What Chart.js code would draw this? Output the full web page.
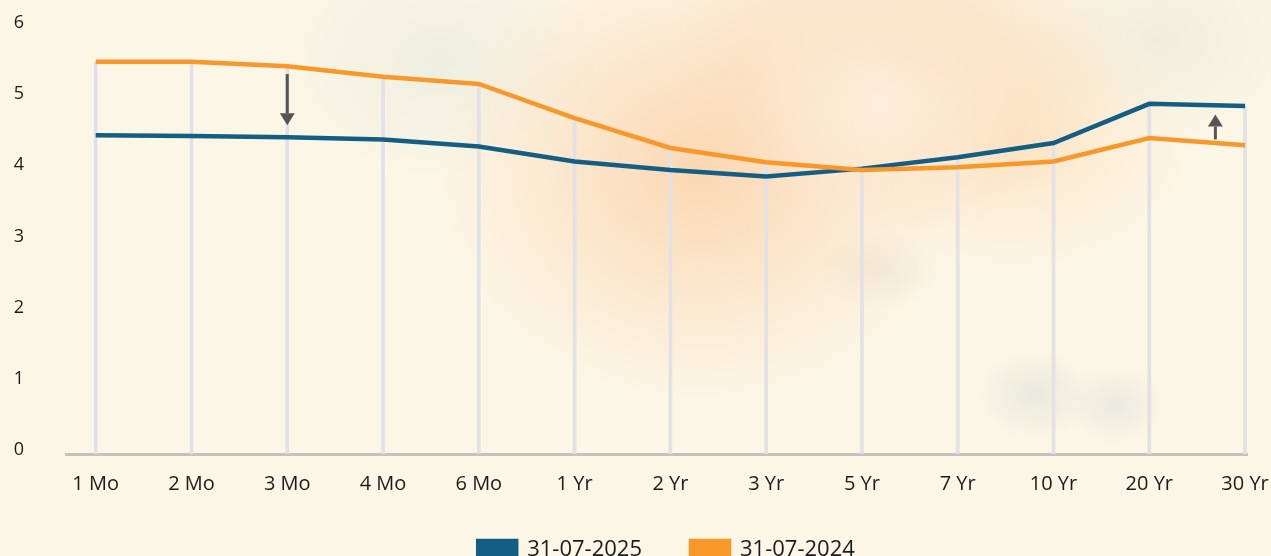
<!DOCTYPE html>
<html>
<head>
<meta charset="utf-8">
<script src="https://cdn.jsdelivr.net/npm/chart.js@4.4.1/dist/chart.umd.min.js"></script>
<style>
html, body {
	margin: 0;
	padding: 0;
	width: 1271px;
	height: 556px;
	overflow: hidden;
}
body {
	background:
		radial-gradient(ellipse 150px 130px at 880px 100px, rgba(253,240,222,0.9), rgba(253,240,222,0) 100%),
		radial-gradient(ellipse 260px 230px at 700px 170px, rgba(251,214,176,0.95), rgba(251,214,176,0) 100%),
		radial-gradient(ellipse 230px 170px at 900px 60px, rgba(251,216,180,0.9), rgba(251,216,180,0) 100%),
		radial-gradient(ellipse 180px 130px at 1010px 140px, rgba(252,226,190,0.8), rgba(252,226,190,0) 100%),
		radial-gradient(ellipse 160px 120px at 440px 60px, rgba(236,238,224,0.9), rgba(236,238,224,0) 100%),
		radial-gradient(ellipse 140px 100px at 1160px 40px, rgba(238,234,218,0.8), rgba(238,234,218,0) 100%),
		radial-gradient(ellipse 60px 45px at 1035px 395px, rgba(230,232,220,0.9), rgba(230,232,220,0) 100%),
		radial-gradient(ellipse 50px 40px at 1115px 405px, rgba(232,233,222,0.9), rgba(232,233,222,0) 100%),
		radial-gradient(ellipse 60px 40px at 880px 270px, rgba(238,234,218,0.8), rgba(238,234,218,0) 100%),
		#fcf6e6;
}
#wrap {
	position: relative;
	width: 1271px;
	height: 571px;
}
</style>
</head>
<body>
<div id="wrap"><canvas id="curve"></canvas></div>
<script>
var maturities = ['1 Mo', '2 Mo', '3 Mo', '4 Mo', '6 Mo', '1 Yr', '2 Yr', '3 Yr', '5 Yr', '7 Yr', '10 Yr', '20 Yr', '30 Yr'];
var yields2025 = [4.48, 4.47, 4.45, 4.42, 4.32, 4.11, 3.99, 3.90, 4.01, 4.17, 4.37, 4.92, 4.89];
var yields2024 = [5.51, 5.51, 5.45, 5.30, 5.20, 4.72, 4.30, 4.10, 3.99, 4.03, 4.11, 4.44, 4.34];
var seriesNames = ['31-07-2025', '31-07-2024'];

// change arrows, in data units (x = maturity index, y = yield)
var arrows = [
	{ x: 2, from: 5.34, to: 4.62 },
	{ x: 11.69, from: 4.42, to: 4.77 }
];

var FONT = '"Open Sans", sans-serif';

function points(vals) {
	return vals.map(function (v, i) { return { x: i, y: v }; });
}
var dropTops = maturities.map(function (m, i) {
	return { x: i, y: Math.max(yields2025[i], yields2024[i]) };
});

var arrowPlugin = {
	id: 'arrows',
	afterLayout: function (chart) {
		// legend sits a little right of centre in the original
		if (chart.legend) {
			chart.legend.left += 10;
			chart.legend.right += 10;
		}
	},
	afterDatasetsDraw: function (chart) {
		var ctx = chart.ctx, xs = chart.scales.x, ys = chart.scales.y;
		ctx.save();
		ctx.strokeStyle = '#555555';
		ctx.fillStyle = '#555555';
		ctx.lineWidth = 3;
		arrows.forEach(function (a) {
			var x = xs.getPixelForValue(a.x);
			var y0 = ys.getPixelForValue(a.from);
			var y1 = ys.getPixelForValue(a.to);
			var dir = y1 > y0 ? 1 : -1;
			var head = 12;
			ctx.beginPath();
			ctx.moveTo(x, y0);
			ctx.lineTo(x, y1 - dir * head);
			ctx.stroke();
			ctx.beginPath();
			ctx.moveTo(x, y1);
			ctx.lineTo(x - 7.5, y1 - dir * head);
			ctx.lineTo(x + 7.5, y1 - dir * head);
			ctx.closePath();
			ctx.fill();
		});
		ctx.restore();
	}
};

var config = {
	data: {
		datasets: [{
			type: 'line',
			label: seriesNames[0],
			data: points(yields2025),
			borderColor: '#135e82',
			backgroundColor: '#135e82',
			borderWidth: 4.5,
			pointRadius: 0,
			tension: 0,
			order: 1
		}, {
			type: 'line',
			label: seriesNames[1],
			data: points(yields2024),
			borderColor: '#f8982a',
			backgroundColor: '#f8982a',
			borderWidth: 4.5,
			pointRadius: 0,
			tension: 0,
			order: 0
		}, {
			type: 'bar',
			label: 'drop',
			data: dropTops,
			backgroundColor: '#e2e1e5',
			borderWidth: 0,
			barThickness: 3,
			order: 2
		}]
	},
	options: {
		responsive: true,
		maintainAspectRatio: false,
		animation: false,
		events: [],
		layout: {
			padding: { top: 27, right: 24, left: 0, bottom: 0 }
		},
		scales: {
			x: {
				type: 'linear',
				min: -0.31,
				max: 12.02,
				offset: false,
				grid: { display: false, drawTicks: false },
				border: { display: true, color: '#c5c2bd', width: 3 },
				ticks: {
					stepSize: 1,
					includeBounds: false,
					autoSkip: false,
					maxRotation: 0,
					padding: 18,
					color: '#1b1b1b',
					font: { family: FONT, size: 20 },
					callback: function (v) { return maturities[v]; }
				},
				afterFit: function (s) {
					s.paddingLeft = 0;
					s.paddingRight = 0;
					s.height -= 24;
				}
			},
			y: {
				min: 0,
				max: 6,
				grid: { display: false, drawTicks: false },
				border: { display: false },
				ticks: {
					stepSize: 1,
					padding: 42,
					labelOffset: -4,
					color: '#1b1b1b',
					font: { family: FONT, size: 18 }
				},
				afterFit: function (s) {
					s.width = 66;
					s.paddingTop = 0;
					s.paddingBottom = 0;
				}
			}
		},
		plugins: {
			tooltip: { enabled: false },
			legend: {
				position: 'bottom',
				fullSize: false,
				labels: {
					boxWidth: 38,
					boxHeight: 18,
					padding: 49,
					color: '#1b1b1b',
					font: { family: FONT, size: 22 },
					filter: function (item) { return item.datasetIndex < 2; },
					sort: function (a, b) { return a.datasetIndex - b.datasetIndex; }
				}
			}
		}
	},
	plugins: [arrowPlugin]
};

window.onload = function () {
	var ctx = document.getElementById('curve').getContext('2d');
	window.curveChart = new Chart(ctx, config);
};
</script>
</body>
</html>
